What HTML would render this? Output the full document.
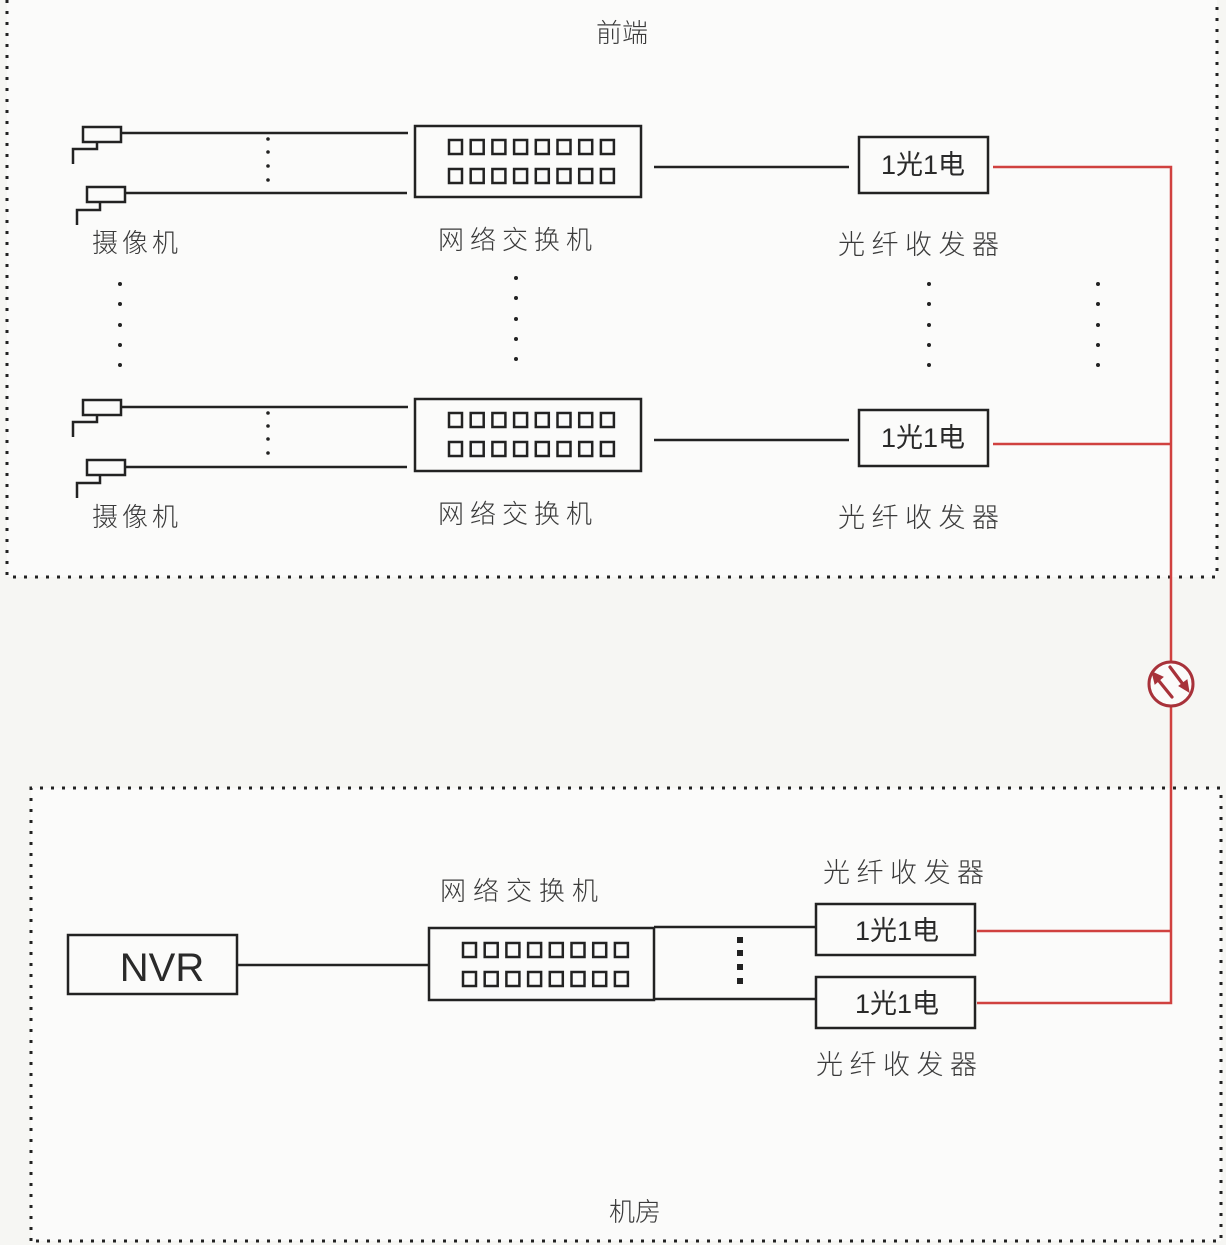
<!DOCTYPE html>
<html><head><meta charset="utf-8">
<style>
html,body{margin:0;padding:0;background:#f6f6f3;}
svg{display:block;}
.lbl{font-family:"Liberation Sans","Noto Sans CJK SC",sans-serif;font-weight:300;fill:#3a3a3a;}
.box{font-family:"Liberation Sans","Noto Sans CJK SC",sans-serif;fill:#2a2a2a;}
</style></head>
<body>
<svg width="1226" height="1245" viewBox="0 0 1226 1245" xmlns="http://www.w3.org/2000/svg">
<defs>
<g id="ports" fill="none" stroke="#222" stroke-width="2.5">
<rect x="0" y="0" width="13" height="14"/><rect x="21.7" y="0" width="13" height="14"/><rect x="43.4" y="0" width="13" height="14"/><rect x="65.1" y="0" width="13" height="14"/><rect x="86.8" y="0" width="13" height="14"/><rect x="108.5" y="0" width="13" height="14"/><rect x="130.2" y="0" width="13" height="14"/><rect x="151.9" y="0" width="13" height="14"/>
<rect x="0" y="29" width="13" height="14"/><rect x="21.7" y="29" width="13" height="14"/><rect x="43.4" y="29" width="13" height="14"/><rect x="65.1" y="29" width="13" height="14"/><rect x="86.8" y="29" width="13" height="14"/><rect x="108.5" y="29" width="13" height="14"/><rect x="130.2" y="29" width="13" height="14"/><rect x="151.9" y="29" width="13" height="14"/>
</g>
</defs>
<rect x="0" y="0" width="1226" height="1245" fill="#f6f6f3"/>
<rect x="7" y="0" width="1210" height="577" fill="#fbfbfa"/>
<rect x="31" y="788" width="1190" height="453" fill="#fbfbfa"/>

<!-- dotted borders -->
<g stroke="#222" stroke-width="3" stroke-dasharray="3 8" fill="none">
<path d="M7 0 V577 H1217 V0"/>
<path d="M31 1241 V788 H1221 V1241 H31"/>
</g>

<!-- red lines -->
<g stroke="#d0413f" stroke-width="2.5" fill="none">
<path d="M993 167 H1171 V1003 H977"/>
<path d="M993 444 H1171"/>
<path d="M977 931 H1171"/>
</g>
<circle cx="1171" cy="684" r="22" fill="#fbfbfa" stroke="#a8323a" stroke-width="3"/>
<g stroke="#a8323a" stroke-width="3.2" fill="#a8323a" stroke-linecap="round">
<line x1="1172" y1="697" x2="1159" y2="681"/>
<polygon points="1152,672 1163,677 1155,684" stroke-width="1"/>
<line x1="1170" y1="667" x2="1182" y2="683"/>
<polygon points="1189,692 1187,680 1179,686" stroke-width="1"/>
</g>

<g stroke="#222" stroke-width="2.5" fill="none">
<!-- row 1 cameras -->
<rect x="83" y="127" width="38" height="15"/>
<path d="M97 142 V149 H73 V164"/>
<line x1="121" y1="133" x2="408" y2="133"/>
<rect x="87" y="187" width="38" height="15"/>
<path d="M100 202 V210 H77 V225"/>
<line x1="125" y1="193" x2="407" y2="193"/>
<rect x="415" y="126" width="226" height="71"/>
<line x1="654" y1="167" x2="849" y2="167"/>
<rect x="859" y="137" width="129" height="56"/>

<!-- row 2 -->
<rect x="83" y="400" width="38" height="15"/>
<path d="M97 415 V422 H73 V437"/>
<line x1="121" y1="407" x2="408" y2="407"/>
<rect x="87" y="460" width="38" height="15"/>
<path d="M100 475 V483 H77 V498"/>
<line x1="125" y1="467" x2="407" y2="467"/>
<rect x="415" y="399" width="226" height="72"/>
<line x1="654" y1="440" x2="849" y2="440"/>
<rect x="859" y="410" width="129" height="56"/>

<!-- bottom -->
<rect x="68" y="935" width="169" height="59"/>
<line x1="237" y1="965" x2="429" y2="965"/>
<rect x="429" y="928" width="225" height="72"/>
<path d="M654 927 H816 M654 999 H816"/>
<rect x="816" y="904" width="159" height="51"/>
<rect x="816" y="977" width="159" height="51"/>
</g>

<use href="#ports" x="449" y="140"/>
<use href="#ports" x="449" y="413"/>
<use href="#ports" x="463" y="943"/>

<!-- dots -->
<g fill="#222">
<circle cx="268" cy="139" r="1.8"/><circle cx="268" cy="152" r="1.8"/><circle cx="268" cy="166" r="1.8"/><circle cx="268" cy="180" r="1.8"/>
<circle cx="268" cy="413" r="1.8"/><circle cx="268" cy="426" r="1.8"/><circle cx="268" cy="439" r="1.8"/><circle cx="268" cy="453" r="1.8"/>
<circle cx="120" cy="284" r="2"/><circle cx="120" cy="304" r="2"/><circle cx="120" cy="325" r="2"/><circle cx="120" cy="345" r="2"/><circle cx="120" cy="365" r="2"/>
<circle cx="516" cy="278" r="2"/><circle cx="516" cy="298" r="2"/><circle cx="516" cy="319" r="2"/><circle cx="516" cy="339" r="2"/><circle cx="516" cy="359" r="2"/>
<circle cx="929" cy="284" r="2"/><circle cx="929" cy="304" r="2"/><circle cx="929" cy="325" r="2"/><circle cx="929" cy="345" r="2"/><circle cx="929" cy="365" r="2"/>
<circle cx="1098" cy="284" r="2"/><circle cx="1098" cy="304" r="2"/><circle cx="1098" cy="325" r="2"/><circle cx="1098" cy="345" r="2"/><circle cx="1098" cy="365" r="2"/>
<rect x="737" y="937" width="6" height="6"/><rect x="737" y="950" width="6" height="6"/><rect x="737" y="964" width="6" height="6"/><rect x="737" y="978" width="6" height="6"/>
</g>

<!-- labels -->
<g class="lbl" font-size="26" dominant-baseline="central">
<text x="622" y="33" text-anchor="middle">前端</text>
<text x="92" y="243" letter-spacing="4">摄像机</text>
<text x="438" y="240" letter-spacing="6">网络交换机</text>
<text x="838" y="245" font-size="27" letter-spacing="6.5">光纤收发器</text>
<text x="92" y="517" letter-spacing="4">摄像机</text>
<text x="438" y="514" letter-spacing="6">网络交换机</text>
<text x="838" y="518" font-size="27" letter-spacing="6.5">光纤收发器</text>
<text x="440" y="891" letter-spacing="7">网络交换机</text>
<text x="823" y="873" font-size="27" letter-spacing="6.5">光纤收发器</text>
<text x="816" y="1065" font-size="27" letter-spacing="6.5">光纤收发器</text>
<text x="635" y="1212" text-anchor="middle">机房</text>
</g>
<g class="box" font-size="27" dominant-baseline="central" text-anchor="middle">
<text x="923" y="165">1光1电</text>
<text x="923" y="438">1光1电</text>
<text x="897" y="931">1光1电</text>
<text x="897" y="1004">1光1电</text>
<text x="162" y="968" font-size="40">NVR</text>
</g>
</svg>
</body></html>
